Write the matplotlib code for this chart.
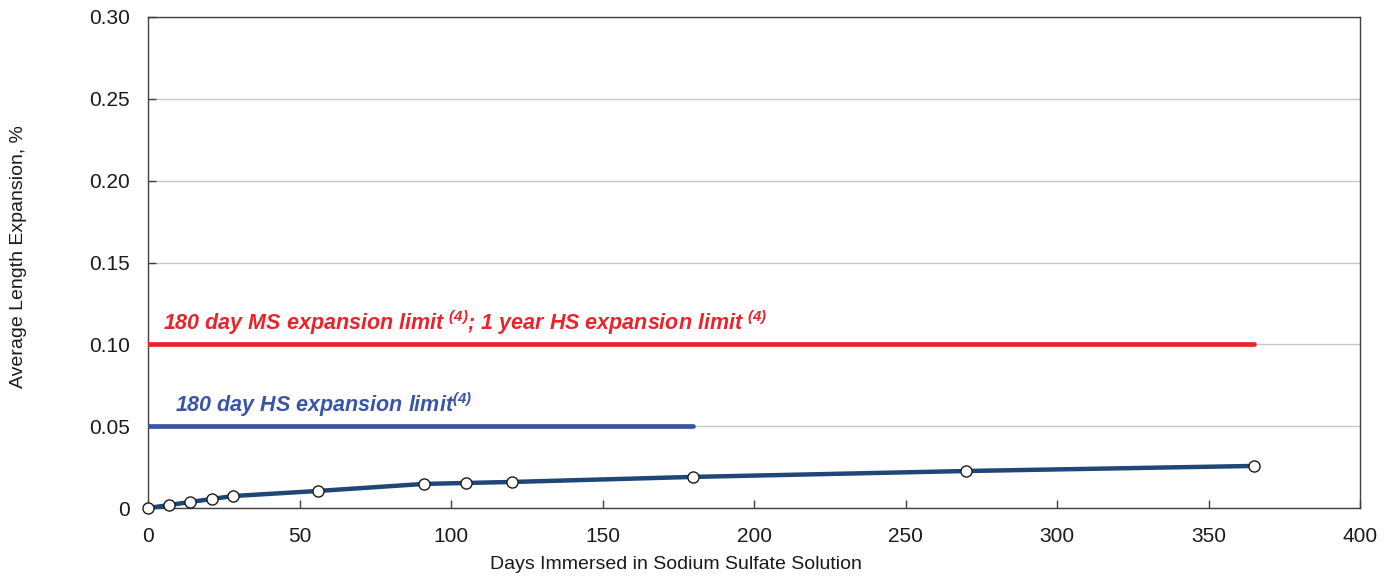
import matplotlib
matplotlib.use("Agg")
import matplotlib.pyplot as plt
from matplotlib import font_manager

# data
days = [0, 7, 14, 21, 28, 56, 91, 105, 120, 180, 270, 365]
expansion = [0.0, 0.0018, 0.0037, 0.0055, 0.0073, 0.0104, 0.0147, 0.0153, 0.0159, 0.0190, 0.0226, 0.0257]

ms_limit = 0.10
ms_limit_days = [0, 365]
hs_limit = 0.05
hs_limit_days = [0, 180]

x_ticks = [0, 50, 100, 150, 200, 250, 300, 350, 400]
y_ticks = [0, 0.05, 0.10, 0.15, 0.20, 0.25, 0.30]
y_tick_labels = ["0", "0.05", "0.10", "0.15", "0.20", "0.25", "0.30"]

names = {f.name for f in font_manager.fontManager.ttflist}
narrow = "Liberation Sans Narrow" if "Liberation Sans Narrow" in names else "Liberation Sans"

plt.rcParams['font.family'] = ['Liberation Sans', 'DejaVu Sans']
plt.rcParams['mathtext.fontset'] = 'custom'
plt.rcParams['mathtext.rm'] = narrow + ':bold:italic'
plt.rcParams['mathtext.it'] = narrow + ':bold:italic'
plt.rcParams['mathtext.bf'] = narrow + ':bold:italic'

fig = plt.figure(figsize=(13.95, 5.77), dpi=100)
ax = fig.add_axes([148 / 1395, 69 / 577, 1212 / 1395, 491 / 577])

ax.set_xlim(0, 400)
ax.set_ylim(0, 0.30)
ax.set_xticks(x_ticks)
ax.set_yticks(y_ticks)
ax.set_yticklabels(y_tick_labels)
ax.tick_params(direction='in', length=6, width=1, color='#404040',
               labelsize=15, labelcolor='#1a1a1a')
ax.tick_params(axis='y', pad=13)
ax.tick_params(axis='x', pad=14)
ax.yaxis.grid(True, color='#c8c8c8', linewidth=1)
ax.set_axisbelow(True)
for s in ax.spines.values():
    s.set_color('#404040')
    s.set_linewidth(1)

# limit lines
ax.plot(ms_limit_days, [ms_limit, ms_limit], color='#E8252B', linewidth=3.4,
        solid_capstyle='round', zorder=3)
ax.plot(hs_limit_days, [hs_limit, hs_limit], color='#3A55A5', linewidth=3.4,
        solid_capstyle='round', zorder=3)

ax.text(5, ms_limit + 0.0045, r"180 day MS expansion limit $^{(4)}$; 1 year HS expansion limit $^{(4)}$",
        color='#E8252B', fontsize=15.5, fontweight='bold', fontstyle='italic',
        family=narrow, va='bottom', ha='left')
ax.text(9, hs_limit + 0.0045, r"180 day HS expansion limit$^{(4)}$",
        color='#3A55A5', fontsize=15.5, fontweight='bold', fontstyle='italic',
        family=narrow, va='bottom', ha='left')

# measured expansion
ax.plot(days, expansion, color='#1F4677', linewidth=3.2, marker='o', markersize=8,
        markerfacecolor='white', markeredgecolor='#1a1a1a', markeredgewidth=1,
        zorder=4, clip_on=False)

ax.set_xlabel("Days Immersed in Sodium Sulfate Solution", fontsize=14, color='#1a1a1a')
ax.xaxis.set_label_coords(0.436, -0.098)
ax.set_ylabel("Average Length Expansion, %", fontsize=14, color='#1a1a1a')
ax.yaxis.set_label_coords(-0.1, 0.513)

fig.savefig("out.png", dpi=100)
